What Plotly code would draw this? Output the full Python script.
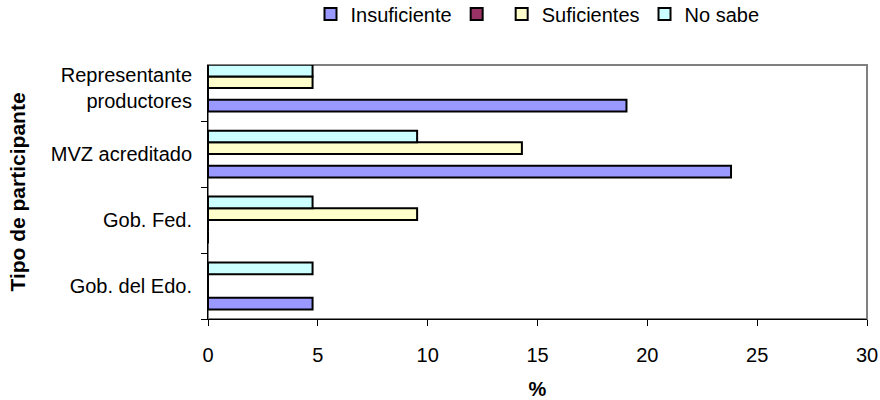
import plotly.graph_objects as go

categories = ["Gob. del Edo.", "Gob. Fed.", "MVZ acreditado", "Representante<br>productores"]
series_names = ["Insuficiente", "", "Suficientes", "No sabe"]
insuficiente = [4.76, 0, 23.81, 19.05]
serie2 = [0, 0, 0, 0]
suficientes = [0, 9.52, 14.29, 4.76]
no_sabe = [4.76, 4.76, 9.52, 4.76]
colors = ["#9999FF", "#993366", "#FFFFCC", "#CCFFFF"]
x_ticks = [0, 5, 10, 15, 20, 25, 30]

FONT = "Liberation Sans, Arial, sans-serif"
fig = go.Figure()
for name, vals, col in zip(series_names, [insuficiente, serie2, suficientes, no_sabe], colors):
    fig.add_trace(go.Bar(
        y=categories, x=vals, name=name, orientation="h",
        marker=dict(color=col, line=dict(color="black", width=2)),
    ))

fig.update_layout(
    width=880, height=400,
    margin=dict(l=208, r=13, t=65, b=81, autoexpand=False),
    paper_bgcolor="white", plot_bgcolor="white",
    barmode="group", bargap=0.29, bargroupgap=0,
    font=dict(family=FONT, size=20, color="black"),
    legend=dict(orientation="h", x=0.5, xanchor="center", xref="paper",
                y=0.965, yanchor="middle", yref="container",
                font=dict(size=20), itemwidth=30, traceorder="normal"),
    shapes=[dict(type="rect", xref="paper", yref="paper", x0=0, x1=1, y0=0, y1=1,
                 line=dict(color="#808080", width=2), layer="below")],
)
fig.update_xaxes(
    range=[0, 30], tickvals=x_ticks, ticks="outside", ticklen=6, tickcolor="black",
    showline=True, linecolor="black", linewidth=1, showgrid=False, zeroline=False,
    ticklabelstandoff=12, automargin=False,
    title=dict(text="<b>%</b>", font=dict(size=20), standoff=16),
)
fig.update_yaxes(
    categoryorder="array", categoryarray=categories,
    range=[-0.5, 3.35], ticks="outside", tickson="boundaries", ticklen=6, tickcolor="black",
    showline=True, linecolor="black", linewidth=1, showgrid=False, zeroline=False,
    ticklabelstandoff=11, automargin=False,
    title=dict(text="<b>Tipo de participante</b>", font=dict(size=21), standoff=19),
)
fig.write_html("out.html", config={"displayModeBar": False},
               post_script="document.body.style.margin='0';")
